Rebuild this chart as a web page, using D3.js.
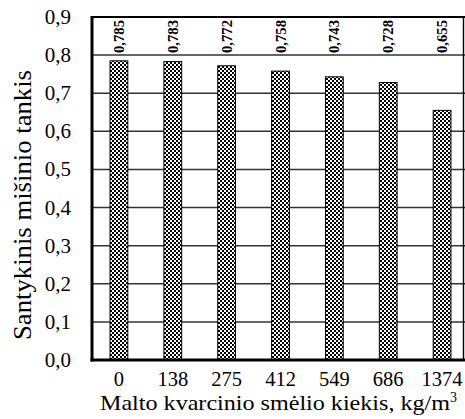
<!DOCTYPE html>
<html><head><meta charset="utf-8">
<script src="https://cdn.jsdelivr.net/npm/d3@7"></script>
</head><body style="margin:0">
<script>
const categories = ["0","138","275","412","549","686","1374"];
const values = [0.785,0.783,0.772,0.758,0.743,0.728,0.655];
const valueLabels = ["0,785","0,783","0,772","0,758","0,743","0,728","0,655"];
const yTicks = [0,0.1,0.2,0.3,0.4,0.5,0.6,0.7,0.8,0.9];
const yTitle = "Santykinis mišinio tankis";
const xTitle = "Malto kvarcinio smėlio kiekis, kg/m";

const W = 465, H = 419;
const FF = "Liberation Serif";
const svg = d3.select("body").append("svg").attr("width",W).attr("height",H)
  .style("font-family",'"Liberation Serif", serif').style("display","block");

const defs = svg.append("defs");
const pat = defs.append("pattern").attr("id","chk").attr("patternUnits","userSpaceOnUse")
  .attr("width",4).attr("height",4);
pat.append("rect").attr("width",4).attr("height",4).attr("fill","#fff");
pat.append("rect").attr("x",0).attr("y",0).attr("width",2).attr("height",2).attr("fill","#000");
pat.append("rect").attr("x",2).attr("y",2).attr("width",2).attr("height",2).attr("fill","#000");

const x = d3.scaleBand().domain(categories).range([92,469]).padding(0);
const y = d3.scaleLinear().domain([0,0.9]).range([360,17]);
const bw = x.bandwidth()*0.33;

// gridlines
svg.append("g").selectAll("line").data(yTicks.filter(d=>d>0 && d<0.9)).join("line")
  .attr("x1",92).attr("x2",469).attr("y1",d=>y(d)).attr("y2",d=>y(d))
  .attr("stroke","#333").attr("stroke-width",1.5);
// top border
svg.append("line").attr("x1",92).attr("x2",469).attr("y1",y(0.9)).attr("y2",y(0.9))
  .attr("stroke","#000").attr("stroke-width",2.2);
// right border
svg.append("line").attr("x1",463.5).attr("x2",463.5).attr("y1",y(0.9)).attr("y2",y(0))
  .attr("stroke","#000").attr("stroke-width",1.4);

// bars
svg.append("g").selectAll("rect").data(values).join("rect")
  .attr("x",(d,i)=>x(categories[i])+x.bandwidth()/2-bw/2)
  .attr("y",d=>y(d)).attr("width",bw).attr("height",d=>y(0)-y(d))
  .attr("fill","url(#chk)").attr("stroke","#000").attr("stroke-width",1);

// value labels
svg.append("g").selectAll("text").data(valueLabels).join("text")
  .attr("transform",(d,i)=>`translate(${x(categories[i])+x.bandwidth()/2+5},53) rotate(-90)`)
  .style("font-family",`"${FF}"`).style("font-weight","bold").style("font-size","15px")
  .attr("text-anchor","start").attr("textLength",33).attr("lengthAdjust","spacingAndGlyphs")
  .text(d=>d);

// axes lines
svg.append("line").attr("x1",92).attr("x2",92).attr("y1",y(0.9)-1).attr("y2",y(0)+1.5)
  .attr("stroke","#000").attr("stroke-width",3);
svg.append("line").attr("x1",90.5).attr("x2",469).attr("y1",y(0)).attr("y2",y(0))
  .attr("stroke","#000").attr("stroke-width",3);

// y tick labels
svg.append("g").selectAll("text").data(yTicks).join("text")
  .attr("x",71).attr("y",d=>y(d)+7).attr("text-anchor","end")
  .style("font-family",`"${FF}"`).style("font-size","21px")
  .text(d=>d3.format(".1f")(d).replace(".",","));

// x tick labels
svg.append("g").selectAll("text").data(categories).join("text")
  .attr("x",d=>x(d)+x.bandwidth()/2).attr("y",386).attr("text-anchor","middle")
  .style("font-family",`"${FF}"`).style("font-size","20.5px").text(d=>d);

// x title
const xt = svg.append("text").attr("x",100).attr("y",410).attr("text-anchor","start")
  .style("font-family",`"${FF}"`).style("font-size","21px");
xt.append("tspan").attr("textLength",350).attr("lengthAdjust","spacingAndGlyphs").text(xTitle);
xt.append("tspan").attr("dy",-8).style("font-size","14px").text("3");

// y title
svg.append("text").attr("transform","translate(31,205) rotate(-90)")
  .attr("text-anchor","middle").style("font-family",`"${FF}"`).style("font-size","26px")
  .attr("textLength",270).attr("lengthAdjust","spacingAndGlyphs").text(yTitle);
</script>
</body></html>
